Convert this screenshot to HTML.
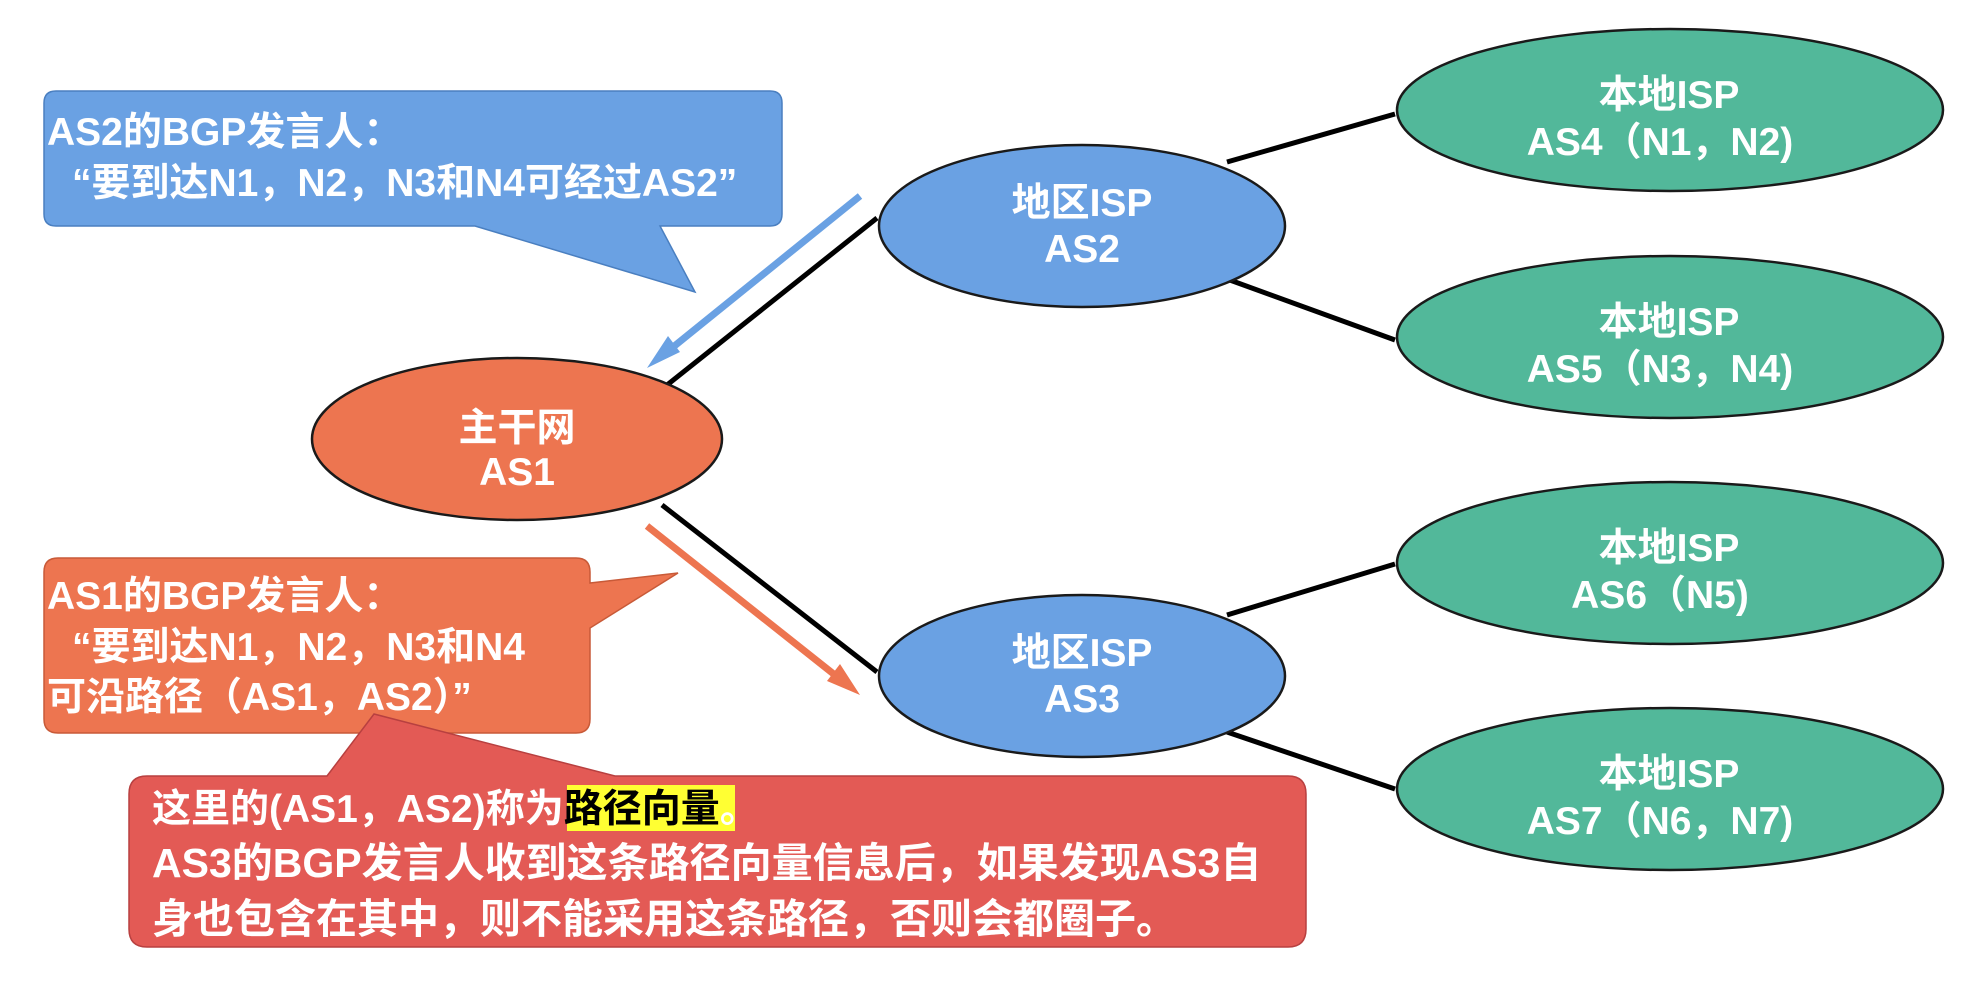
<!DOCTYPE html>
<html><head><meta charset="utf-8"><style>
body{margin:0;background:#fff;}
svg text{font-family:"Liberation Sans","Noto Sans CJK SC",sans-serif;font-weight:bold;fill:#fff;font-size:39px;}
</style></head><body>
<svg width="1988" height="986" viewBox="0 0 1988 986" xmlns="http://www.w3.org/2000/svg">
<g stroke="#000" stroke-width="5">
<line x1="662" y1="389" x2="877" y2="218"/>
<line x1="662" y1="505" x2="877" y2="672"/>
<line x1="1227" y1="162" x2="1395" y2="114"/>
<line x1="1227" y1="279" x2="1395" y2="340"/>
<line x1="1227" y1="615" x2="1395" y2="564"/>
<line x1="1227" y1="732" x2="1395" y2="789"/>
</g>
<g stroke="#1a1a1a" stroke-width="2.5">
<ellipse cx="517" cy="439" rx="205" ry="81" fill="#ed7550"/>
<ellipse cx="1082" cy="226" rx="203" ry="81" fill="#6aa1e3"/>
<ellipse cx="1082" cy="676" rx="203" ry="81" fill="#6aa1e3"/>
<ellipse cx="1670" cy="110" rx="273" ry="81" fill="#52b89a"/>
<ellipse cx="1670" cy="337" rx="273" ry="81" fill="#52b89a"/>
<ellipse cx="1670" cy="563" rx="273" ry="81" fill="#52b89a"/>
<ellipse cx="1670" cy="789" rx="273" ry="81" fill="#52b89a"/>
</g>
<line x1="860" y1="196" x2="662" y2="356" stroke="#6aa1e3" stroke-width="7"/>
<polygon points="647,368 668,336 680,352" fill="#6aa1e3"/>
<line x1="647" y1="526" x2="845" y2="683" stroke="#ed7550" stroke-width="7"/>
<polygon points="860,695 827,681 840,664" fill="#ed7550"/>
<path d="M56,91 H770 Q782,91 782,103 V214 Q782,226 770,226 H660 L695,292 L475,226 H56 Q44,226 44,214 V103 Q44,91 56,91 Z" fill="#6aa1e3" stroke="#4a7fc0" stroke-width="1.5"/>
<path d="M58,558 H576 Q590,558 590,572 V583 L678,573 L590,628 V719 Q590,733 576,733 H58 Q44,733 44,719 V572 Q44,558 58,558 Z" fill="#ed7550" stroke="#c85a38" stroke-width="1.5"/>
<path d="M147,776 H327 L374,714 L615,776 H1288 Q1306,776 1306,794 V929 Q1306,947 1288,947 H147 Q129,947 129,929 V794 Q129,776 147,776 Z" fill="#e35a55" stroke="#b84040" stroke-width="1.5"/>
<rect x="567" y="785" width="168" height="46" fill="#ffff33"/>
<g>
<text x="47" y="145">AS2的BGP发言人：</text>
<text x="72" y="196">“要到达N1，N2，N3和N4可经过AS2”</text>
<text x="47" y="609">AS1的BGP发言人：</text>
<text x="72" y="660">“要到达N1，N2，N3和N4</text>
<text x="47" y="710">可沿路径（AS1，AS2）”</text>
<text x="152" y="822">这里的(AS1，AS2)称为<tspan fill="#000">路径向量</tspan>。</text>
<text x="152" y="877" style="font-size:41px">AS3的BGP发言人收到这条路径向量信息后，如果发现AS3自</text>
<text x="152" y="933" style="font-size:41px">身也包含在其中，则不能采用这条路径，否则会都圈子。</text>
</g>
<g text-anchor="middle">
<text x="517" y="441">主干网</text><text x="517" y="485">AS1</text>
<text x="1082" y="216">地区ISP</text><text x="1082" y="262">AS2</text>
<text x="1082" y="666">地区ISP</text><text x="1082" y="712">AS3</text>
<text x="1669" y="108">本地ISP</text><text x="1660" y="155">AS4（N1，N2)</text>
<text x="1669" y="335">本地ISP</text><text x="1660" y="382">AS5（N3，N4)</text>
<text x="1669" y="561">本地ISP</text><text x="1660" y="608">AS6（N5)</text>
<text x="1669" y="787">本地ISP</text><text x="1660" y="834">AS7（N6，N7)</text>
</g>
</svg>
</body></html>
